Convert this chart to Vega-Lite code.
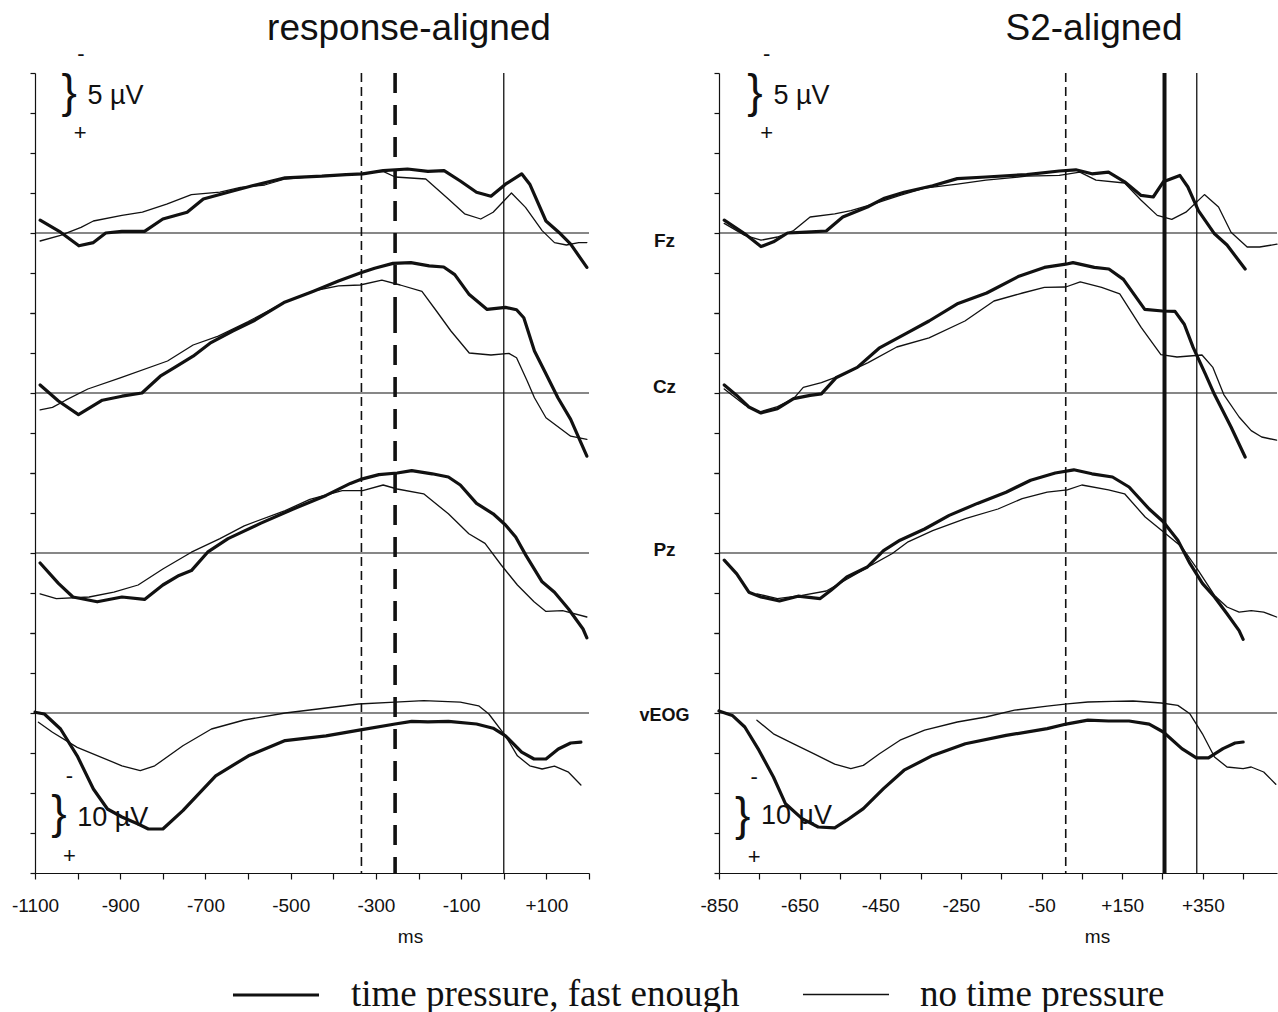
{
"$schema": "https://vega.github.io/schema/vega-lite/v6.json",
"background": "white",
"padding": {"left": 11, "top": 9, "right": 0, "bottom": 0},
"config": {
  "view": {"stroke": null},
  "font": "Liberation Sans",
  "axis": {"domainColor": "#111", "tickColor": "#111", "grid": false, "labelColor": "#111", "titleColor": "#111", "domainWidth": 1.2, "tickWidth": 1.2, "labelFont": "Liberation Sans", "titleFont": "Liberation Sans"},
  "title": {"font": "Liberation Sans", "fontSize": 37, "fontWeight": "normal", "color": "#111"},
  "legend": {"symbolType": "stroke", "symbolSize": 7400, "symbolStrokeColor": "#111", "labelFont": "Liberation Serif", "labelFontSize": 37, "labelColor": "#111", "labelOffset": 30, "columnPadding": 60, "labelLimit": 0, "padding": 0}
},
"datasets": {
"w": [
{"p":"R","c":"Fz","k":"tp","t":-1088,"v":-1.6},{"p":"R","c":"Fz","k":"tp","t":-1040,"v":-0.1},{"p":"R","c":"Fz","k":"tp","t":-997,"v":1.6},{"p":"R","c":"Fz","k":"tp","t":-963,"v":1.2},{"p":"R","c":"Fz","k":"tp","t":-934,"v":0},{"p":"R","c":"Fz","k":"tp","t":-896,"v":-0.2},{"p":"R","c":"Fz","k":"tp","t":-843,"v":-0.2},{"p":"R","c":"Fz","k":"tp","t":-800,"v":-1.75},{"p":"R","c":"Fz","k":"tp","t":-743,"v":-2.6},{"p":"R","c":"Fz","k":"tp","t":-705,"v":-4.25},{"p":"R","c":"Fz","k":"tp","t":-647,"v":-5.1},{"p":"R","c":"Fz","k":"tp","t":-590,"v":-5.9},{"p":"R","c":"Fz","k":"tp","t":-513,"v":-6.9},{"p":"R","c":"Fz","k":"tp","t":-427,"v":-7.1},{"p":"R","c":"Fz","k":"tp","t":-370,"v":-7.3},{"p":"R","c":"Fz","k":"tp","t":-331,"v":-7.4},{"p":"R","c":"Fz","k":"tp","t":-283,"v":-7.8},{"p":"R","c":"Fz","k":"tp","t":-226,"v":-8.0},{"p":"R","c":"Fz","k":"tp","t":-178,"v":-7.7},{"p":"R","c":"Fz","k":"tp","t":-140,"v":-7.8},{"p":"R","c":"Fz","k":"tp","t":-102,"v":-6.5},{"p":"R","c":"Fz","k":"tp","t":-64,"v":-5.1},{"p":"R","c":"Fz","k":"tp","t":-30,"v":-4.6},{"p":"R","c":"Fz","k":"tp","t":4,"v":-6.1},{"p":"R","c":"Fz","k":"tp","t":42,"v":-7.4},{"p":"R","c":"Fz","k":"tp","t":61,"v":-6.1},{"p":"R","c":"Fz","k":"tp","t":99,"v":-1.5},{"p":"R","c":"Fz","k":"tp","t":133,"v":0.1},{"p":"R","c":"Fz","k":"tp","t":157,"v":1.4},{"p":"R","c":"Fz","k":"tp","t":195,"v":4.3},
{"p":"R","c":"Fz","k":"ntp","t":-1088,"v":1.0},{"p":"R","c":"Fz","k":"ntp","t":-1040,"v":0.3},{"p":"R","c":"Fz","k":"ntp","t":-992,"v":-0.7},{"p":"R","c":"Fz","k":"ntp","t":-963,"v":-1.5},{"p":"R","c":"Fz","k":"ntp","t":-896,"v":-2.2},{"p":"R","c":"Fz","k":"ntp","t":-848,"v":-2.6},{"p":"R","c":"Fz","k":"ntp","t":-791,"v":-3.6},{"p":"R","c":"Fz","k":"ntp","t":-733,"v":-4.8},{"p":"R","c":"Fz","k":"ntp","t":-666,"v":-5.1},{"p":"R","c":"Fz","k":"ntp","t":-618,"v":-5.7},{"p":"R","c":"Fz","k":"ntp","t":-561,"v":-6.0},{"p":"R","c":"Fz","k":"ntp","t":-513,"v":-6.75},{"p":"R","c":"Fz","k":"ntp","t":-417,"v":-7.2},{"p":"R","c":"Fz","k":"ntp","t":-341,"v":-7.4},{"p":"R","c":"Fz","k":"ntp","t":-283,"v":-7.7},{"p":"R","c":"Fz","k":"ntp","t":-255,"v":-7.0},{"p":"R","c":"Fz","k":"ntp","t":-183,"v":-6.75},{"p":"R","c":"Fz","k":"ntp","t":-130,"v":-4.25},{"p":"R","c":"Fz","k":"ntp","t":-92,"v":-2.4},{"p":"R","c":"Fz","k":"ntp","t":-54,"v":-1.75},{"p":"R","c":"Fz","k":"ntp","t":-25,"v":-2.6},{"p":"R","c":"Fz","k":"ntp","t":18,"v":-5.0},{"p":"R","c":"Fz","k":"ntp","t":51,"v":-3.2},{"p":"R","c":"Fz","k":"ntp","t":90,"v":-0.3},{"p":"R","c":"Fz","k":"ntp","t":119,"v":1.2},{"p":"R","c":"Fz","k":"ntp","t":147,"v":1.5},{"p":"R","c":"Fz","k":"ntp","t":176,"v":1.2},{"p":"R","c":"Fz","k":"ntp","t":195,"v":1.2},
{"p":"R","c":"Cz","k":"tp","t":-1088,"v":-1.0},{"p":"R","c":"Cz","k":"tp","t":-1045,"v":1.0},{"p":"R","c":"Cz","k":"tp","t":-998,"v":2.7},{"p":"R","c":"Cz","k":"tp","t":-970,"v":1.8},{"p":"R","c":"Cz","k":"tp","t":-942,"v":0.9},{"p":"R","c":"Cz","k":"tp","t":-896,"v":0.4},{"p":"R","c":"Cz","k":"tp","t":-849,"v":0},{"p":"R","c":"Cz","k":"tp","t":-806,"v":-2.1},{"p":"R","c":"Cz","k":"tp","t":-772,"v":-3.2},{"p":"R","c":"Cz","k":"tp","t":-729,"v":-4.6},{"p":"R","c":"Cz","k":"tp","t":-687,"v":-6.3},{"p":"R","c":"Cz","k":"tp","t":-636,"v":-7.75},{"p":"R","c":"Cz","k":"tp","t":-584,"v":-9.1},{"p":"R","c":"Cz","k":"tp","t":-516,"v":-11.3},{"p":"R","c":"Cz","k":"tp","t":-448,"v":-12.7},{"p":"R","c":"Cz","k":"tp","t":-388,"v":-14.0},{"p":"R","c":"Cz","k":"tp","t":-337,"v":-15.0},{"p":"R","c":"Cz","k":"tp","t":-303,"v":-15.6},{"p":"R","c":"Cz","k":"tp","t":-260,"v":-16.2},{"p":"R","c":"Cz","k":"tp","t":-218,"v":-16.3},{"p":"R","c":"Cz","k":"tp","t":-175,"v":-15.9},{"p":"R","c":"Cz","k":"tp","t":-141,"v":-15.75},{"p":"R","c":"Cz","k":"tp","t":-115,"v":-14.8},{"p":"R","c":"Cz","k":"tp","t":-81,"v":-12.3},{"p":"R","c":"Cz","k":"tp","t":-39,"v":-10.45},{"p":"R","c":"Cz","k":"tp","t":4,"v":-10.7},{"p":"R","c":"Cz","k":"tp","t":30,"v":-10.4},{"p":"R","c":"Cz","k":"tp","t":47,"v":-9.4},{"p":"R","c":"Cz","k":"tp","t":72,"v":-5.25},{"p":"R","c":"Cz","k":"tp","t":98,"v":-2.5},{"p":"R","c":"Cz","k":"tp","t":127,"v":0.6},{"p":"R","c":"Cz","k":"tp","t":157,"v":3.3},{"p":"R","c":"Cz","k":"tp","t":195,"v":7.9},
{"p":"R","c":"Cz","k":"ntp","t":-1088,"v":2.1},{"p":"R","c":"Cz","k":"ntp","t":-1059,"v":1.8},{"p":"R","c":"Cz","k":"ntp","t":-1028,"v":0.9},{"p":"R","c":"Cz","k":"ntp","t":-976,"v":-0.5},{"p":"R","c":"Cz","k":"ntp","t":-900,"v":-1.9},{"p":"R","c":"Cz","k":"ntp","t":-789,"v":-4.0},{"p":"R","c":"Cz","k":"ntp","t":-729,"v":-6.0},{"p":"R","c":"Cz","k":"ntp","t":-670,"v":-7.1},{"p":"R","c":"Cz","k":"ntp","t":-601,"v":-8.9},{"p":"R","c":"Cz","k":"ntp","t":-516,"v":-11.3},{"p":"R","c":"Cz","k":"ntp","t":-448,"v":-12.75},{"p":"R","c":"Cz","k":"ntp","t":-388,"v":-13.4},{"p":"R","c":"Cz","k":"ntp","t":-337,"v":-13.5},{"p":"R","c":"Cz","k":"ntp","t":-286,"v":-14.1},{"p":"R","c":"Cz","k":"ntp","t":-243,"v":-13.5},{"p":"R","c":"Cz","k":"ntp","t":-192,"v":-12.7},{"p":"R","c":"Cz","k":"ntp","t":-158,"v":-10.25},{"p":"R","c":"Cz","k":"ntp","t":-124,"v":-7.75},{"p":"R","c":"Cz","k":"ntp","t":-81,"v":-5.0},{"p":"R","c":"Cz","k":"ntp","t":-30,"v":-4.75},{"p":"R","c":"Cz","k":"ntp","t":12,"v":-4.96},{"p":"R","c":"Cz","k":"ntp","t":30,"v":-4.4},{"p":"R","c":"Cz","k":"ntp","t":55,"v":-1.5},{"p":"R","c":"Cz","k":"ntp","t":72,"v":0.6},{"p":"R","c":"Cz","k":"ntp","t":99,"v":3.1},{"p":"R","c":"Cz","k":"ntp","t":157,"v":5.4},{"p":"R","c":"Cz","k":"ntp","t":195,"v":5.8},
{"p":"R","c":"Pz","k":"tp","t":-1088,"v":1.25},{"p":"R","c":"Pz","k":"tp","t":-1045,"v":3.8},{"p":"R","c":"Pz","k":"tp","t":-1011,"v":5.5},{"p":"R","c":"Pz","k":"tp","t":-954,"v":6.1},{"p":"R","c":"Pz","k":"tp","t":-896,"v":5.5},{"p":"R","c":"Pz","k":"tp","t":-843,"v":5.8},{"p":"R","c":"Pz","k":"tp","t":-800,"v":4.0},{"p":"R","c":"Pz","k":"tp","t":-762,"v":2.8},{"p":"R","c":"Pz","k":"tp","t":-733,"v":2.2},{"p":"R","c":"Pz","k":"tp","t":-695,"v":-0.1},{"p":"R","c":"Pz","k":"tp","t":-647,"v":-1.8},{"p":"R","c":"Pz","k":"tp","t":-571,"v":-3.7},{"p":"R","c":"Pz","k":"tp","t":-494,"v":-5.5},{"p":"R","c":"Pz","k":"tp","t":-417,"v":-7.2},{"p":"R","c":"Pz","k":"tp","t":-360,"v":-8.7},{"p":"R","c":"Pz","k":"tp","t":-336,"v":-9.2},{"p":"R","c":"Pz","k":"tp","t":-293,"v":-9.8},{"p":"R","c":"Pz","k":"tp","t":-250,"v":-10.0},{"p":"R","c":"Pz","k":"tp","t":-216,"v":-10.3},{"p":"R","c":"Pz","k":"tp","t":-168,"v":-9.9},{"p":"R","c":"Pz","k":"tp","t":-130,"v":-9.5},{"p":"R","c":"Pz","k":"tp","t":-102,"v":-8.5},{"p":"R","c":"Pz","k":"tp","t":-64,"v":-6.2},{"p":"R","c":"Pz","k":"tp","t":-25,"v":-4.9},{"p":"R","c":"Pz","k":"tp","t":4,"v":-3.5},{"p":"R","c":"Pz","k":"tp","t":28,"v":-2.0},{"p":"R","c":"Pz","k":"tp","t":52,"v":0.3},{"p":"R","c":"Pz","k":"tp","t":90,"v":3.6},{"p":"R","c":"Pz","k":"tp","t":119,"v":4.9},{"p":"R","c":"Pz","k":"tp","t":152,"v":7.0},{"p":"R","c":"Pz","k":"tp","t":186,"v":9.5},{"p":"R","c":"Pz","k":"tp","t":195,"v":10.6},
{"p":"R","c":"Pz","k":"ntp","t":-1088,"v":5.1},{"p":"R","c":"Pz","k":"ntp","t":-1050,"v":5.7},{"p":"R","c":"Pz","k":"ntp","t":-973,"v":5.5},{"p":"R","c":"Pz","k":"ntp","t":-915,"v":4.9},{"p":"R","c":"Pz","k":"ntp","t":-858,"v":4.0},{"p":"R","c":"Pz","k":"ntp","t":-800,"v":2.0},{"p":"R","c":"Pz","k":"ntp","t":-733,"v":-0.1},{"p":"R","c":"Pz","k":"ntp","t":-666,"v":-1.8},{"p":"R","c":"Pz","k":"ntp","t":-609,"v":-3.4},{"p":"R","c":"Pz","k":"ntp","t":-513,"v":-5.3},{"p":"R","c":"Pz","k":"ntp","t":-455,"v":-6.7},{"p":"R","c":"Pz","k":"ntp","t":-379,"v":-7.8},{"p":"R","c":"Pz","k":"ntp","t":-331,"v":-7.8},{"p":"R","c":"Pz","k":"ntp","t":-283,"v":-8.5},{"p":"R","c":"Pz","k":"ntp","t":-250,"v":-8.0},{"p":"R","c":"Pz","k":"ntp","t":-188,"v":-7.4},{"p":"R","c":"Pz","k":"ntp","t":-130,"v":-4.9},{"p":"R","c":"Pz","k":"ntp","t":-82,"v":-2.4},{"p":"R","c":"Pz","k":"ntp","t":-44,"v":-1.2},{"p":"R","c":"Pz","k":"ntp","t":-6,"v":1.5},{"p":"R","c":"Pz","k":"ntp","t":32,"v":4.0},{"p":"R","c":"Pz","k":"ntp","t":71,"v":6.1},{"p":"R","c":"Pz","k":"ntp","t":99,"v":7.3},{"p":"R","c":"Pz","k":"ntp","t":138,"v":7.2},{"p":"R","c":"Pz","k":"ntp","t":195,"v":8.0},
{"p":"R","c":"vEOG","k":"tp","t":-1100,"v":-0.2},{"p":"R","c":"vEOG","k":"tp","t":-1078,"v":0.25},{"p":"R","c":"vEOG","k":"tp","t":-1040,"v":4},{"p":"R","c":"vEOG","k":"tp","t":-1001,"v":10.7},{"p":"R","c":"vEOG","k":"tp","t":-963,"v":19},{"p":"R","c":"vEOG","k":"tp","t":-930,"v":24},{"p":"R","c":"vEOG","k":"tp","t":-896,"v":26},{"p":"R","c":"vEOG","k":"tp","t":-858,"v":27.75},{"p":"R","c":"vEOG","k":"tp","t":-834,"v":29},{"p":"R","c":"vEOG","k":"tp","t":-800,"v":29},{"p":"R","c":"vEOG","k":"tp","t":-753,"v":24.4},{"p":"R","c":"vEOG","k":"tp","t":-676,"v":15.7},{"p":"R","c":"vEOG","k":"tp","t":-599,"v":10.7},{"p":"R","c":"vEOG","k":"tp","t":-513,"v":6.9},{"p":"R","c":"vEOG","k":"tp","t":-417,"v":5.7},{"p":"R","c":"vEOG","k":"tp","t":-336,"v":4.2},{"p":"R","c":"vEOG","k":"tp","t":-255,"v":2.75},{"p":"R","c":"vEOG","k":"tp","t":-216,"v":2.1},{"p":"R","c":"vEOG","k":"tp","t":-178,"v":2.2},{"p":"R","c":"vEOG","k":"tp","t":-130,"v":2.1},{"p":"R","c":"vEOG","k":"tp","t":-64,"v":2.75},{"p":"R","c":"vEOG","k":"tp","t":-25,"v":3.8},{"p":"R","c":"vEOG","k":"tp","t":4,"v":5.7},{"p":"R","c":"vEOG","k":"tp","t":42,"v":9.8},{"p":"R","c":"vEOG","k":"tp","t":71,"v":11.5},{"p":"R","c":"vEOG","k":"tp","t":99,"v":11.5},{"p":"R","c":"vEOG","k":"tp","t":128,"v":9.0},{"p":"R","c":"vEOG","k":"tp","t":157,"v":7.5},{"p":"R","c":"vEOG","k":"tp","t":181,"v":7.3},
{"p":"R","c":"vEOG","k":"ntp","t":-1092,"v":2.3},{"p":"R","c":"vEOG","k":"ntp","t":-1059,"v":4.8},{"p":"R","c":"vEOG","k":"ntp","t":-1001,"v":8.6},{"p":"R","c":"vEOG","k":"ntp","t":-944,"v":11.1},{"p":"R","c":"vEOG","k":"ntp","t":-896,"v":13.2},{"p":"R","c":"vEOG","k":"ntp","t":-853,"v":14.4},{"p":"R","c":"vEOG","k":"ntp","t":-819,"v":13.2},{"p":"R","c":"vEOG","k":"ntp","t":-753,"v":8.2},{"p":"R","c":"vEOG","k":"ntp","t":-686,"v":4.0},{"p":"R","c":"vEOG","k":"ntp","t":-609,"v":1.75},{"p":"R","c":"vEOG","k":"ntp","t":-513,"v":0},{"p":"R","c":"vEOG","k":"ntp","t":-436,"v":-1.0},{"p":"R","c":"vEOG","k":"ntp","t":-341,"v":-2.25},{"p":"R","c":"vEOG","k":"ntp","t":-255,"v":-2.7},{"p":"R","c":"vEOG","k":"ntp","t":-188,"v":-3.1},{"p":"R","c":"vEOG","k":"ntp","t":-102,"v":-2.7},{"p":"R","c":"vEOG","k":"ntp","t":-59,"v":-1.8},{"p":"R","c":"vEOG","k":"ntp","t":-35,"v":0.25},{"p":"R","c":"vEOG","k":"ntp","t":4,"v":5.7},{"p":"R","c":"vEOG","k":"ntp","t":32,"v":10.7},{"p":"R","c":"vEOG","k":"ntp","t":61,"v":13.2},{"p":"R","c":"vEOG","k":"ntp","t":90,"v":14.0},{"p":"R","c":"vEOG","k":"ntp","t":119,"v":13.3},{"p":"R","c":"vEOG","k":"ntp","t":152,"v":14.8},{"p":"R","c":"vEOG","k":"ntp","t":181,"v":18},
{"p":"S","c":"Fz","k":"tp","t":-837,"v":-1.6},{"p":"S","c":"Fz","k":"tp","t":-786,"v":0.1},{"p":"S","c":"Fz","k":"tp","t":-746,"v":1.7},{"p":"S","c":"Fz","k":"tp","t":-715,"v":1.1},{"p":"S","c":"Fz","k":"tp","t":-680,"v":0},{"p":"S","c":"Fz","k":"tp","t":-634,"v":-0.1},{"p":"S","c":"Fz","k":"tp","t":-584,"v":-0.25},{"p":"S","c":"Fz","k":"tp","t":-543,"v":-2.0},{"p":"S","c":"Fz","k":"tp","t":-482,"v":-3.25},{"p":"S","c":"Fz","k":"tp","t":-442,"v":-4.3},{"p":"S","c":"Fz","k":"tp","t":-391,"v":-5.1},{"p":"S","c":"Fz","k":"tp","t":-320,"v":-5.9},{"p":"S","c":"Fz","k":"tp","t":-259,"v":-6.8},{"p":"S","c":"Fz","k":"tp","t":-188,"v":-7.0},{"p":"S","c":"Fz","k":"tp","t":-87,"v":-7.3},{"p":"S","c":"Fz","k":"tp","t":-6,"v":-7.75},{"p":"S","c":"Fz","k":"tp","t":35,"v":-7.9},{"p":"S","c":"Fz","k":"tp","t":75,"v":-7.4},{"p":"S","c":"Fz","k":"tp","t":116,"v":-7.6},{"p":"S","c":"Fz","k":"tp","t":156,"v":-6.4},{"p":"S","c":"Fz","k":"tp","t":197,"v":-4.7},{"p":"S","c":"Fz","k":"tp","t":227,"v":-4.5},{"p":"S","c":"Fz","k":"tp","t":252,"v":-6.4},{"p":"S","c":"Fz","k":"tp","t":293,"v":-7.2},{"p":"S","c":"Fz","k":"tp","t":313,"v":-5.75},{"p":"S","c":"Fz","k":"tp","t":339,"v":-2.8},{"p":"S","c":"Fz","k":"tp","t":379,"v":0.1},{"p":"S","c":"Fz","k":"tp","t":410,"v":1.5},{"p":"S","c":"Fz","k":"tp","t":455,"v":4.5},
{"p":"S","c":"Fz","k":"ntp","t":-837,"v":-1.2},{"p":"S","c":"Fz","k":"ntp","t":-786,"v":0.3},{"p":"S","c":"Fz","k":"ntp","t":-746,"v":0.9},{"p":"S","c":"Fz","k":"ntp","t":-705,"v":0.5},{"p":"S","c":"Fz","k":"ntp","t":-665,"v":-0.3},{"p":"S","c":"Fz","k":"ntp","t":-624,"v":-2.0},{"p":"S","c":"Fz","k":"ntp","t":-563,"v":-2.4},{"p":"S","c":"Fz","k":"ntp","t":-523,"v":-2.8},{"p":"S","c":"Fz","k":"ntp","t":-462,"v":-3.7},{"p":"S","c":"Fz","k":"ntp","t":-401,"v":-4.7},{"p":"S","c":"Fz","k":"ntp","t":-340,"v":-5.6},{"p":"S","c":"Fz","k":"ntp","t":-259,"v":-6.1},{"p":"S","c":"Fz","k":"ntp","t":-188,"v":-6.6},{"p":"S","c":"Fz","k":"ntp","t":-87,"v":-7.1},{"p":"S","c":"Fz","k":"ntp","t":-6,"v":-7.2},{"p":"S","c":"Fz","k":"ntp","t":45,"v":-7.6},{"p":"S","c":"Fz","k":"ntp","t":85,"v":-6.6},{"p":"S","c":"Fz","k":"ntp","t":156,"v":-6.25},{"p":"S","c":"Fz","k":"ntp","t":197,"v":-4.1},{"p":"S","c":"Fz","k":"ntp","t":237,"v":-2.2},{"p":"S","c":"Fz","k":"ntp","t":273,"v":-1.7},{"p":"S","c":"Fz","k":"ntp","t":308,"v":-2.6},{"p":"S","c":"Fz","k":"ntp","t":354,"v":-4.8},{"p":"S","c":"Fz","k":"ntp","t":389,"v":-3.25},{"p":"S","c":"Fz","k":"ntp","t":420,"v":-0.1},{"p":"S","c":"Fz","k":"ntp","t":460,"v":1.75},{"p":"S","c":"Fz","k":"ntp","t":491,"v":1.75},{"p":"S","c":"Fz","k":"ntp","t":534,"v":1.4},
{"p":"S","c":"Cz","k":"tp","t":-837,"v":-1.0},{"p":"S","c":"Cz","k":"tp","t":-806,"v":0.3},{"p":"S","c":"Cz","k":"tp","t":-776,"v":1.75},{"p":"S","c":"Cz","k":"tp","t":-746,"v":2.5},{"p":"S","c":"Cz","k":"tp","t":-705,"v":1.96},{"p":"S","c":"Cz","k":"tp","t":-665,"v":0.7},{"p":"S","c":"Cz","k":"tp","t":-624,"v":0.3},{"p":"S","c":"Cz","k":"tp","t":-596,"v":0.1},{"p":"S","c":"Cz","k":"tp","t":-560,"v":-1.9},{"p":"S","c":"Cz","k":"tp","t":-507,"v":-3.2},{"p":"S","c":"Cz","k":"tp","t":-453,"v":-5.6},{"p":"S","c":"Cz","k":"tp","t":-382,"v":-7.55},{"p":"S","c":"Cz","k":"tp","t":-329,"v":-9.0},{"p":"S","c":"Cz","k":"tp","t":-257,"v":-11.2},{"p":"S","c":"Cz","k":"tp","t":-186,"v":-12.5},{"p":"S","c":"Cz","k":"tp","t":-106,"v":-14.6},{"p":"S","c":"Cz","k":"tp","t":-43,"v":-15.7},{"p":"S","c":"Cz","k":"tp","t":10,"v":-16.1},{"p":"S","c":"Cz","k":"tp","t":28,"v":-16.3},{"p":"S","c":"Cz","k":"tp","t":81,"v":-15.7},{"p":"S","c":"Cz","k":"tp","t":117,"v":-15.5},{"p":"S","c":"Cz","k":"tp","t":153,"v":-14.2},{"p":"S","c":"Cz","k":"tp","t":206,"v":-10.45},{"p":"S","c":"Cz","k":"tp","t":250,"v":-10.25},{"p":"S","c":"Cz","k":"tp","t":281,"v":-10.2},{"p":"S","c":"Cz","k":"tp","t":304,"v":-8.6},{"p":"S","c":"Cz","k":"tp","t":326,"v":-5.7},{"p":"S","c":"Cz","k":"tp","t":357,"v":-2.3},{"p":"S","c":"Cz","k":"tp","t":379,"v":0.2},{"p":"S","c":"Cz","k":"tp","t":420,"v":4.25},{"p":"S","c":"Cz","k":"tp","t":455,"v":8.0},
{"p":"S","c":"Cz","k":"ntp","t":-837,"v":-0.5},{"p":"S","c":"Cz","k":"ntp","t":-786,"v":1.5},{"p":"S","c":"Cz","k":"ntp","t":-751,"v":2.4},{"p":"S","c":"Cz","k":"ntp","t":-705,"v":1.7},{"p":"S","c":"Cz","k":"ntp","t":-665,"v":0.7},{"p":"S","c":"Cz","k":"ntp","t":-641,"v":-0.7},{"p":"S","c":"Cz","k":"ntp","t":-596,"v":-1.3},{"p":"S","c":"Cz","k":"ntp","t":-543,"v":-2.3},{"p":"S","c":"Cz","k":"ntp","t":-480,"v":-3.8},{"p":"S","c":"Cz","k":"ntp","t":-409,"v":-5.75},{"p":"S","c":"Cz","k":"ntp","t":-329,"v":-6.9},{"p":"S","c":"Cz","k":"ntp","t":-240,"v":-9.0},{"p":"S","c":"Cz","k":"ntp","t":-168,"v":-11.5},{"p":"S","c":"Cz","k":"ntp","t":-97,"v":-12.5},{"p":"S","c":"Cz","k":"ntp","t":-43,"v":-13.2},{"p":"S","c":"Cz","k":"ntp","t":10,"v":-13.25},{"p":"S","c":"Cz","k":"ntp","t":46,"v":-13.9},{"p":"S","c":"Cz","k":"ntp","t":99,"v":-13.2},{"p":"S","c":"Cz","k":"ntp","t":144,"v":-12.4},{"p":"S","c":"Cz","k":"ntp","t":197,"v":-8.2},{"p":"S","c":"Cz","k":"ntp","t":246,"v":-4.8},{"p":"S","c":"Cz","k":"ntp","t":286,"v":-4.5},{"p":"S","c":"Cz","k":"ntp","t":348,"v":-4.75},{"p":"S","c":"Cz","k":"ntp","t":375,"v":-3.2},{"p":"S","c":"Cz","k":"ntp","t":402,"v":0.2},{"p":"S","c":"Cz","k":"ntp","t":440,"v":3.0},{"p":"S","c":"Cz","k":"ntp","t":470,"v":4.7},{"p":"S","c":"Cz","k":"ntp","t":496,"v":5.5},{"p":"S","c":"Cz","k":"ntp","t":533,"v":5.9},
{"p":"S","c":"Pz","k":"tp","t":-837,"v":0.9},{"p":"S","c":"Pz","k":"tp","t":-806,"v":2.6},{"p":"S","c":"Pz","k":"tp","t":-776,"v":4.9},{"p":"S","c":"Pz","k":"tp","t":-746,"v":5.5},{"p":"S","c":"Pz","k":"tp","t":-700,"v":6.0},{"p":"S","c":"Pz","k":"tp","t":-654,"v":5.4},{"p":"S","c":"Pz","k":"tp","t":-599,"v":5.7},{"p":"S","c":"Pz","k":"tp","t":-573,"v":4.7},{"p":"S","c":"Pz","k":"tp","t":-533,"v":3.0},{"p":"S","c":"Pz","k":"tp","t":-482,"v":1.75},{"p":"S","c":"Pz","k":"tp","t":-442,"v":-0.3},{"p":"S","c":"Pz","k":"tp","t":-401,"v":-1.6},{"p":"S","c":"Pz","k":"tp","t":-340,"v":-3.0},{"p":"S","c":"Pz","k":"tp","t":-279,"v":-4.7},{"p":"S","c":"Pz","k":"tp","t":-209,"v":-6.2},{"p":"S","c":"Pz","k":"tp","t":-138,"v":-7.6},{"p":"S","c":"Pz","k":"tp","t":-77,"v":-9.1},{"p":"S","c":"Pz","k":"tp","t":-16,"v":-10.0},{"p":"S","c":"Pz","k":"tp","t":30,"v":-10.4},{"p":"S","c":"Pz","k":"tp","t":75,"v":-9.9},{"p":"S","c":"Pz","k":"tp","t":126,"v":-9.5},{"p":"S","c":"Pz","k":"tp","t":167,"v":-8.25},{"p":"S","c":"Pz","k":"tp","t":217,"v":-5.5},{"p":"S","c":"Pz","k":"tp","t":252,"v":-3.9},{"p":"S","c":"Pz","k":"tp","t":288,"v":-1.6},{"p":"S","c":"Pz","k":"tp","t":318,"v":1.3},{"p":"S","c":"Pz","k":"tp","t":349,"v":3.8},{"p":"S","c":"Pz","k":"tp","t":379,"v":5.5},{"p":"S","c":"Pz","k":"tp","t":410,"v":7.6},{"p":"S","c":"Pz","k":"tp","t":440,"v":9.7},{"p":"S","c":"Pz","k":"tp","t":450,"v":10.8},
{"p":"S","c":"Pz","k":"ntp","t":-756,"v":5.1},{"p":"S","c":"Pz","k":"ntp","t":-705,"v":5.7},{"p":"S","c":"Pz","k":"ntp","t":-644,"v":5.3},{"p":"S","c":"Pz","k":"ntp","t":-584,"v":4.75},{"p":"S","c":"Pz","k":"ntp","t":-523,"v":3.0},{"p":"S","c":"Pz","k":"ntp","t":-482,"v":1.8},{"p":"S","c":"Pz","k":"ntp","t":-421,"v":0.1},{"p":"S","c":"Pz","k":"ntp","t":-381,"v":-1.4},{"p":"S","c":"Pz","k":"ntp","t":-320,"v":-2.8},{"p":"S","c":"Pz","k":"ntp","t":-239,"v":-4.3},{"p":"S","c":"Pz","k":"ntp","t":-158,"v":-5.5},{"p":"S","c":"Pz","k":"ntp","t":-98,"v":-6.8},{"p":"S","c":"Pz","k":"ntp","t":-36,"v":-7.6},{"p":"S","c":"Pz","k":"ntp","t":14,"v":-7.9},{"p":"S","c":"Pz","k":"ntp","t":50,"v":-8.5},{"p":"S","c":"Pz","k":"ntp","t":116,"v":-7.9},{"p":"S","c":"Pz","k":"ntp","t":156,"v":-7.4},{"p":"S","c":"Pz","k":"ntp","t":207,"v":-4.5},{"p":"S","c":"Pz","k":"ntp","t":258,"v":-2.4},{"p":"S","c":"Pz","k":"ntp","t":298,"v":-0.75},{"p":"S","c":"Pz","k":"ntp","t":339,"v":2.2},{"p":"S","c":"Pz","k":"ntp","t":379,"v":5.3},{"p":"S","c":"Pz","k":"ntp","t":410,"v":6.75},{"p":"S","c":"Pz","k":"ntp","t":440,"v":7.4},{"p":"S","c":"Pz","k":"ntp","t":470,"v":7.2},{"p":"S","c":"Pz","k":"ntp","t":501,"v":7.4},{"p":"S","c":"Pz","k":"ntp","t":533,"v":8.0},
{"p":"S","c":"vEOG","k":"tp","t":-850,"v":-0.5},{"p":"S","c":"vEOG","k":"tp","t":-817,"v":0.6},{"p":"S","c":"vEOG","k":"tp","t":-786,"v":3.5},{"p":"S","c":"vEOG","k":"tp","t":-751,"v":9.3},{"p":"S","c":"vEOG","k":"tp","t":-715,"v":16},{"p":"S","c":"vEOG","k":"tp","t":-685,"v":22.7},{"p":"S","c":"vEOG","k":"tp","t":-644,"v":26.4},{"p":"S","c":"vEOG","k":"tp","t":-604,"v":28.5},{"p":"S","c":"vEOG","k":"tp","t":-563,"v":28.7},{"p":"S","c":"vEOG","k":"tp","t":-533,"v":26.8},{"p":"S","c":"vEOG","k":"tp","t":-492,"v":23.9},{"p":"S","c":"vEOG","k":"tp","t":-442,"v":18.9},{"p":"S","c":"vEOG","k":"tp","t":-391,"v":14.3},{"p":"S","c":"vEOG","k":"tp","t":-320,"v":10.6},{"p":"S","c":"vEOG","k":"tp","t":-239,"v":7.7},{"p":"S","c":"vEOG","k":"tp","t":-138,"v":5.6},{"p":"S","c":"vEOG","k":"tp","t":-36,"v":3.9},{"p":"S","c":"vEOG","k":"tp","t":14,"v":2.7},{"p":"S","c":"vEOG","k":"tp","t":65,"v":1.8},{"p":"S","c":"vEOG","k":"tp","t":116,"v":2.0},{"p":"S","c":"vEOG","k":"tp","t":167,"v":2.0},{"p":"S","c":"vEOG","k":"tp","t":217,"v":2.8},{"p":"S","c":"vEOG","k":"tp","t":252,"v":4.75},{"p":"S","c":"vEOG","k":"tp","t":298,"v":8.9},{"p":"S","c":"vEOG","k":"tp","t":334,"v":11.2},{"p":"S","c":"vEOG","k":"tp","t":364,"v":11.2},{"p":"S","c":"vEOG","k":"tp","t":400,"v":8.9},{"p":"S","c":"vEOG","k":"tp","t":430,"v":7.5},{"p":"S","c":"vEOG","k":"tp","t":450,"v":7.25},
{"p":"S","c":"vEOG","k":"ntp","t":-756,"v":1.8},{"p":"S","c":"vEOG","k":"ntp","t":-715,"v":5.2},{"p":"S","c":"vEOG","k":"ntp","t":-665,"v":7.7},{"p":"S","c":"vEOG","k":"ntp","t":-614,"v":10.2},{"p":"S","c":"vEOG","k":"ntp","t":-563,"v":12.8},{"p":"S","c":"vEOG","k":"ntp","t":-523,"v":13.9},{"p":"S","c":"vEOG","k":"ntp","t":-492,"v":13.1},{"p":"S","c":"vEOG","k":"ntp","t":-452,"v":10.2},{"p":"S","c":"vEOG","k":"ntp","t":-401,"v":6.8},{"p":"S","c":"vEOG","k":"ntp","t":-340,"v":4.3},{"p":"S","c":"vEOG","k":"ntp","t":-259,"v":2.25},{"p":"S","c":"vEOG","k":"ntp","t":-188,"v":1.0},{"p":"S","c":"vEOG","k":"ntp","t":-117,"v":-0.7},{"p":"S","c":"vEOG","k":"ntp","t":-36,"v":-1.7},{"p":"S","c":"vEOG","k":"ntp","t":14,"v":-2.3},{"p":"S","c":"vEOG","k":"ntp","t":65,"v":-2.75},{"p":"S","c":"vEOG","k":"ntp","t":126,"v":-2.9},{"p":"S","c":"vEOG","k":"ntp","t":177,"v":-3.0},{"p":"S","c":"vEOG","k":"ntp","t":247,"v":-2.5},{"p":"S","c":"vEOG","k":"ntp","t":288,"v":-1.9},{"p":"S","c":"vEOG","k":"ntp","t":318,"v":0.2},{"p":"S","c":"vEOG","k":"ntp","t":349,"v":5.2},{"p":"S","c":"vEOG","k":"ntp","t":379,"v":11},{"p":"S","c":"vEOG","k":"ntp","t":410,"v":13.5},{"p":"S","c":"vEOG","k":"ntp","t":450,"v":13.9},{"p":"S","c":"vEOG","k":"ntp","t":470,"v":13.5},{"p":"S","c":"vEOG","k":"ntp","t":501,"v":14.75},{"p":"S","c":"vEOG","k":"ntp","t":531,"v":17.8}
]
},
"columns": 2,
"spacing": {"row": 0, "column": 130},
"align": "each",
"bounds": "flush",
"concat": [
{
"width": 554, "height": 240,
"title": {"text": "response-aligned", "dx": 97, "offset": -5},
"layer": [
{"data": {"name": "w"}, "transform": [{"filter": "datum.p=='R'&&datum.c=='Fz'"}], "mark": {"type": "line", "color": "#111", "strokeJoin": "round", "strokeCap": "round"},
 "encoding": {
  "x": {"field": "t", "type": "quantitative", "scale": {"domain": [-1100, 200], "nice": false, "zero": false}, "axis": null},
  "y": {"field": "v", "type": "quantitative", "scale": {"domain": [-20, 10], "reverse": true, "nice": false, "zero": false}, "axis": {"values": [-20,-15,-10,-5,0,5,10], "labels": false, "title": null, "tickSize": 5}},
  "strokeWidth": {"field": "k", "type": "nominal", "scale": {"domain": ["tp","ntp"], "range": [3.2, 1.3]}, "legend": {"title": null, "orient": "none", "direction": "horizontal", "legendX": 196, "legendY": 877, "labelExpr": "datum.value=='tp'?'time pressure, fast enough':'no time pressure'"}}}},
{"data": {"values": [{}]}, "mark": {"type": "rule", "color": "#111", "strokeWidth": 1.2}, "encoding": {"y": {"datum": 0, "scale": {"domain": [-20, 10], "reverse": true, "nice": false, "zero": false}, "axis": {"values": [-20,-15,-10,-5,0,5,10], "labels": false, "title": null, "tickSize": 5}}}},
{"data": {"values": [{}]}, "mark": {"type": "rule", "color": "#111", "strokeWidth": 1.6, "strokeDash": [9, 5]}, "encoding": {"x": {"datum": -334, "scale": {"domain": [-1100, 200], "nice": false, "zero": false}, "axis": null}}},
{"data": {"values": [{}]}, "mark": {"type": "rule", "color": "#111", "strokeWidth": 3.6, "strokeDash": [20, 12]}, "encoding": {"x": {"datum": -255, "scale": {"domain": [-1100, 200], "nice": false, "zero": false}, "axis": null}}},
{"data": {"values": [{}]}, "mark": {"type": "rule", "color": "#111", "strokeWidth": 1.3}, "encoding": {"x": {"datum": 0, "scale": {"domain": [-1100, 200], "nice": false, "zero": false}, "axis": null}}},
{"data": {"values": [{}]}, "mark": {"type": "text", "text": "-", "fontSize": 22, "color": "#111"}, "encoding": {"x": {"datum": -992, "scale": {"domain": [-1100, 200], "nice": false, "zero": false}, "axis": null}, "y": {"datum": -22.4, "scale": {"domain": [-20, 10], "reverse": true, "nice": false, "zero": false}, "axis": {"values": [-20,-15,-10,-5,0,5,10], "labels": false, "title": null, "tickSize": 5}}}},
{"data": {"values": [{}]}, "mark": {"type": "text", "text": "}", "fontSize": 46, "color": "#111", "baseline": "middle"}, "encoding": {"x": {"datum": -1020, "scale": {"domain": [-1100, 200], "nice": false, "zero": false}, "axis": null}, "y": {"datum": -17.5, "scale": {"domain": [-20, 10], "reverse": true, "nice": false, "zero": false}, "axis": {"values": [-20,-15,-10,-5,0,5,10], "labels": false, "title": null, "tickSize": 5}}}},
{"data": {"values": [{}]}, "mark": {"type": "text", "text": "5 µV", "fontSize": 27, "color": "#111", "align": "left", "baseline": "middle"}, "encoding": {"x": {"datum": -977, "scale": {"domain": [-1100, 200], "nice": false, "zero": false}, "axis": null}, "y": {"datum": -17.1, "scale": {"domain": [-20, 10], "reverse": true, "nice": false, "zero": false}, "axis": {"values": [-20,-15,-10,-5,0,5,10], "labels": false, "title": null, "tickSize": 5}}}},
{"data": {"values": [{}]}, "mark": {"type": "text", "text": "+", "fontSize": 22, "color": "#111", "baseline": "middle"}, "encoding": {"x": {"datum": -994, "scale": {"domain": [-1100, 200], "nice": false, "zero": false}, "axis": null}, "y": {"datum": -12.5, "scale": {"domain": [-20, 10], "reverse": true, "nice": false, "zero": false}, "axis": {"values": [-20,-15,-10,-5,0,5,10], "labels": false, "title": null, "tickSize": 5}}}}
]
},
{
"width": 558, "height": 240,
"title": {"text": "S2-aligned", "dx": 96, "offset": -5},
"layer": [
{"data": {"name": "w"}, "transform": [{"filter": "datum.p=='S'&&datum.c=='Fz'"}], "mark": {"type": "line", "color": "#111", "strokeJoin": "round", "strokeCap": "round"},
 "encoding": {
  "x": {"field": "t", "type": "quantitative", "scale": {"domain": [-850, 534], "nice": false, "zero": false}, "axis": null},
  "y": {"field": "v", "type": "quantitative", "scale": {"domain": [-20, 10], "reverse": true, "nice": false, "zero": false}, "axis": {"values": [-20,-15,-10,-5,0,5,10], "labelExpr": "datum.value==0?'Fz':''", "labelFontWeight": "bold", "labelFontSize": 19, "labelAlign": "center", "labelBaseline": "middle", "labelPadding": 50, "labelOffset": 7, "title": null, "tickSize": 5}},
  "strokeWidth": {"field": "k", "type": "nominal", "scale": {"domain": ["tp","ntp"], "range": [3.2, 1.3]}, "legend": {"title": null, "orient": "none", "direction": "horizontal", "legendX": 196, "legendY": 877, "labelExpr": "datum.value=='tp'?'time pressure, fast enough':'no time pressure'"}}}},
{"data": {"values": [{}]}, "mark": {"type": "rule", "color": "#111", "strokeWidth": 1.2}, "encoding": {"y": {"datum": 0, "scale": {"domain": [-20, 10], "reverse": true, "nice": false, "zero": false}, "axis": {"values": [-20,-15,-10,-5,0,5,10], "labelExpr": "datum.value==0?'Fz':''", "labelFontWeight": "bold", "labelFontSize": 19, "labelAlign": "center", "labelBaseline": "middle", "labelPadding": 50, "labelOffset": 7, "title": null, "tickSize": 5}}}},
{"data": {"values": [{}]}, "mark": {"type": "rule", "color": "#111", "strokeWidth": 1.6, "strokeDash": [9, 5]}, "encoding": {"x": {"datum": 10, "scale": {"domain": [-850, 534], "nice": false, "zero": false}, "axis": null}}},
{"data": {"values": [{}]}, "mark": {"type": "rule", "color": "#111", "strokeWidth": 4}, "encoding": {"x": {"datum": 255, "scale": {"domain": [-850, 534], "nice": false, "zero": false}, "axis": null}}},
{"data": {"values": [{}]}, "mark": {"type": "rule", "color": "#111", "strokeWidth": 1.3}, "encoding": {"x": {"datum": 335, "scale": {"domain": [-850, 534], "nice": false, "zero": false}, "axis": null}}},
{"data": {"values": [{}]}, "mark": {"type": "text", "text": "-", "fontSize": 22, "color": "#111"}, "encoding": {"x": {"datum": -732, "scale": {"domain": [-850, 534], "nice": false, "zero": false}, "axis": null}, "y": {"datum": -22.4, "scale": {"domain": [-20, 10], "reverse": true, "nice": false, "zero": false}, "axis": {"values": [-20,-15,-10,-5,0,5,10], "labelExpr": "datum.value==0?'Fz':''", "labelFontWeight": "bold", "labelFontSize": 19, "labelAlign": "center", "labelBaseline": "middle", "labelPadding": 50, "labelOffset": 7, "title": null, "tickSize": 5}}}},
{"data": {"values": [{}]}, "mark": {"type": "text", "text": "}", "fontSize": 46, "color": "#111", "baseline": "middle"}, "encoding": {"x": {"datum": -761, "scale": {"domain": [-850, 534], "nice": false, "zero": false}, "axis": null}, "y": {"datum": -17.5, "scale": {"domain": [-20, 10], "reverse": true, "nice": false, "zero": false}, "axis": {"values": [-20,-15,-10,-5,0,5,10], "labelExpr": "datum.value==0?'Fz':''", "labelFontWeight": "bold", "labelFontSize": 19, "labelAlign": "center", "labelBaseline": "middle", "labelPadding": 50, "labelOffset": 7, "title": null, "tickSize": 5}}}},
{"data": {"values": [{}]}, "mark": {"type": "text", "text": "5 µV", "fontSize": 27, "color": "#111", "align": "left", "baseline": "middle"}, "encoding": {"x": {"datum": -715, "scale": {"domain": [-850, 534], "nice": false, "zero": false}, "axis": null}, "y": {"datum": -17.1, "scale": {"domain": [-20, 10], "reverse": true, "nice": false, "zero": false}, "axis": {"values": [-20,-15,-10,-5,0,5,10], "labelExpr": "datum.value==0?'Fz':''", "labelFontWeight": "bold", "labelFontSize": 19, "labelAlign": "center", "labelBaseline": "middle", "labelPadding": 50, "labelOffset": 7, "title": null, "tickSize": 5}}}},
{"data": {"values": [{}]}, "mark": {"type": "text", "text": "+", "fontSize": 22, "color": "#111", "baseline": "middle"}, "encoding": {"x": {"datum": -732, "scale": {"domain": [-850, 534], "nice": false, "zero": false}, "axis": null}, "y": {"datum": -12.5, "scale": {"domain": [-20, 10], "reverse": true, "nice": false, "zero": false}, "axis": {"values": [-20,-15,-10,-5,0,5,10], "labelExpr": "datum.value==0?'Fz':''", "labelFontWeight": "bold", "labelFontSize": 19, "labelAlign": "center", "labelBaseline": "middle", "labelPadding": 50, "labelOffset": 7, "title": null, "tickSize": 5}}}}
]
},
{
"width": 554, "height": 160,
"layer": [
{"data": {"name": "w"}, "transform": [{"filter": "datum.p=='R'&&datum.c=='Cz'"}], "mark": {"type": "line", "color": "#111", "strokeJoin": "round", "strokeCap": "round"},
 "encoding": {
  "x": {"field": "t", "type": "quantitative", "scale": {"domain": [-1100, 200], "nice": false, "zero": false}, "axis": null},
  "y": {"field": "v", "type": "quantitative", "scale": {"domain": [-10, 10], "reverse": true, "nice": false, "zero": false}, "axis": {"values": [-10,-5,0,5,10], "labels": false, "title": null, "tickSize": 5}},
  "strokeWidth": {"field": "k", "type": "nominal", "scale": {"domain": ["tp","ntp"], "range": [3.2, 1.3]}, "legend": {"title": null, "orient": "none", "direction": "horizontal", "legendX": 196, "legendY": 877, "labelExpr": "datum.value=='tp'?'time pressure, fast enough':'no time pressure'"}}}},
{"data": {"values": [{}]}, "mark": {"type": "rule", "color": "#111", "strokeWidth": 1.2}, "encoding": {"y": {"datum": 0, "scale": {"domain": [-10, 10], "reverse": true, "nice": false, "zero": false}, "axis": {"values": [-10,-5,0,5,10], "labels": false, "title": null, "tickSize": 5}}}},
{"data": {"values": [{}]}, "mark": {"type": "rule", "color": "#111", "strokeWidth": 1.6, "strokeDash": [9, 5]}, "encoding": {"x": {"datum": -334, "scale": {"domain": [-1100, 200], "nice": false, "zero": false}, "axis": null}}},
{"data": {"values": [{}]}, "mark": {"type": "rule", "color": "#111", "strokeWidth": 3.6, "strokeDash": [20, 12]}, "encoding": {"x": {"datum": -255, "scale": {"domain": [-1100, 200], "nice": false, "zero": false}, "axis": null}}},
{"data": {"values": [{}]}, "mark": {"type": "rule", "color": "#111", "strokeWidth": 1.3}, "encoding": {"x": {"datum": 0, "scale": {"domain": [-1100, 200], "nice": false, "zero": false}, "axis": null}}}
]
},
{
"width": 558, "height": 160,
"layer": [
{"data": {"name": "w"}, "transform": [{"filter": "datum.p=='S'&&datum.c=='Cz'"}], "mark": {"type": "line", "color": "#111", "strokeJoin": "round", "strokeCap": "round"},
 "encoding": {
  "x": {"field": "t", "type": "quantitative", "scale": {"domain": [-850, 534], "nice": false, "zero": false}, "axis": null},
  "y": {"field": "v", "type": "quantitative", "scale": {"domain": [-10, 10], "reverse": true, "nice": false, "zero": false}, "axis": {"values": [-10,-5,0,5,10], "labelExpr": "datum.value==0?'Cz':''", "labelFontWeight": "bold", "labelFontSize": 19, "labelAlign": "center", "labelBaseline": "middle", "labelPadding": 50, "labelOffset": -7, "title": null, "tickSize": 5}},
  "strokeWidth": {"field": "k", "type": "nominal", "scale": {"domain": ["tp","ntp"], "range": [3.2, 1.3]}, "legend": {"title": null, "orient": "none", "direction": "horizontal", "legendX": 196, "legendY": 877, "labelExpr": "datum.value=='tp'?'time pressure, fast enough':'no time pressure'"}}}},
{"data": {"values": [{}]}, "mark": {"type": "rule", "color": "#111", "strokeWidth": 1.2}, "encoding": {"y": {"datum": 0, "scale": {"domain": [-10, 10], "reverse": true, "nice": false, "zero": false}, "axis": {"values": [-10,-5,0,5,10], "labelExpr": "datum.value==0?'Cz':''", "labelFontWeight": "bold", "labelFontSize": 19, "labelAlign": "center", "labelBaseline": "middle", "labelPadding": 50, "labelOffset": -7, "title": null, "tickSize": 5}}}},
{"data": {"values": [{}]}, "mark": {"type": "rule", "color": "#111", "strokeWidth": 1.6, "strokeDash": [9, 5]}, "encoding": {"x": {"datum": 10, "scale": {"domain": [-850, 534], "nice": false, "zero": false}, "axis": null}}},
{"data": {"values": [{}]}, "mark": {"type": "rule", "color": "#111", "strokeWidth": 4}, "encoding": {"x": {"datum": 255, "scale": {"domain": [-850, 534], "nice": false, "zero": false}, "axis": null}}},
{"data": {"values": [{}]}, "mark": {"type": "rule", "color": "#111", "strokeWidth": 1.3}, "encoding": {"x": {"datum": 335, "scale": {"domain": [-850, 534], "nice": false, "zero": false}, "axis": null}}}
]
},
{
"width": 554, "height": 160,
"layer": [
{"data": {"name": "w"}, "transform": [{"filter": "datum.p=='R'&&datum.c=='Pz'"}], "mark": {"type": "line", "color": "#111", "strokeJoin": "round", "strokeCap": "round"},
 "encoding": {
  "x": {"field": "t", "type": "quantitative", "scale": {"domain": [-1100, 200], "nice": false, "zero": false}, "axis": null},
  "y": {"field": "v", "type": "quantitative", "scale": {"domain": [-10, 10], "reverse": true, "nice": false, "zero": false}, "axis": {"values": [-10,-5,0,5,10], "labels": false, "title": null, "tickSize": 5}},
  "strokeWidth": {"field": "k", "type": "nominal", "scale": {"domain": ["tp","ntp"], "range": [3.2, 1.3]}, "legend": {"title": null, "orient": "none", "direction": "horizontal", "legendX": 196, "legendY": 877, "labelExpr": "datum.value=='tp'?'time pressure, fast enough':'no time pressure'"}}}},
{"data": {"values": [{}]}, "mark": {"type": "rule", "color": "#111", "strokeWidth": 1.2}, "encoding": {"y": {"datum": 0, "scale": {"domain": [-10, 10], "reverse": true, "nice": false, "zero": false}, "axis": {"values": [-10,-5,0,5,10], "labels": false, "title": null, "tickSize": 5}}}},
{"data": {"values": [{}]}, "mark": {"type": "rule", "color": "#111", "strokeWidth": 1.6, "strokeDash": [9, 5]}, "encoding": {"x": {"datum": -334, "scale": {"domain": [-1100, 200], "nice": false, "zero": false}, "axis": null}}},
{"data": {"values": [{}]}, "mark": {"type": "rule", "color": "#111", "strokeWidth": 3.6, "strokeDash": [20, 12]}, "encoding": {"x": {"datum": -255, "scale": {"domain": [-1100, 200], "nice": false, "zero": false}, "axis": null}}},
{"data": {"values": [{}]}, "mark": {"type": "rule", "color": "#111", "strokeWidth": 1.3}, "encoding": {"x": {"datum": 0, "scale": {"domain": [-1100, 200], "nice": false, "zero": false}, "axis": null}}}
]
},
{
"width": 558, "height": 160,
"layer": [
{"data": {"name": "w"}, "transform": [{"filter": "datum.p=='S'&&datum.c=='Pz'"}], "mark": {"type": "line", "color": "#111", "strokeJoin": "round", "strokeCap": "round"},
 "encoding": {
  "x": {"field": "t", "type": "quantitative", "scale": {"domain": [-850, 534], "nice": false, "zero": false}, "axis": null},
  "y": {"field": "v", "type": "quantitative", "scale": {"domain": [-10, 10], "reverse": true, "nice": false, "zero": false}, "axis": {"values": [-10,-5,0,5,10], "labelExpr": "datum.value==0?'Pz':''", "labelFontWeight": "bold", "labelFontSize": 19, "labelAlign": "center", "labelBaseline": "middle", "labelPadding": 50, "labelOffset": -4, "title": null, "tickSize": 5}},
  "strokeWidth": {"field": "k", "type": "nominal", "scale": {"domain": ["tp","ntp"], "range": [3.2, 1.3]}, "legend": {"title": null, "orient": "none", "direction": "horizontal", "legendX": 196, "legendY": 877, "labelExpr": "datum.value=='tp'?'time pressure, fast enough':'no time pressure'"}}}},
{"data": {"values": [{}]}, "mark": {"type": "rule", "color": "#111", "strokeWidth": 1.2}, "encoding": {"y": {"datum": 0, "scale": {"domain": [-10, 10], "reverse": true, "nice": false, "zero": false}, "axis": {"values": [-10,-5,0,5,10], "labelExpr": "datum.value==0?'Pz':''", "labelFontWeight": "bold", "labelFontSize": 19, "labelAlign": "center", "labelBaseline": "middle", "labelPadding": 50, "labelOffset": -4, "title": null, "tickSize": 5}}}},
{"data": {"values": [{}]}, "mark": {"type": "rule", "color": "#111", "strokeWidth": 1.6, "strokeDash": [9, 5]}, "encoding": {"x": {"datum": 10, "scale": {"domain": [-850, 534], "nice": false, "zero": false}, "axis": null}}},
{"data": {"values": [{}]}, "mark": {"type": "rule", "color": "#111", "strokeWidth": 4}, "encoding": {"x": {"datum": 255, "scale": {"domain": [-850, 534], "nice": false, "zero": false}, "axis": null}}},
{"data": {"values": [{}]}, "mark": {"type": "rule", "color": "#111", "strokeWidth": 1.3}, "encoding": {"x": {"datum": 335, "scale": {"domain": [-850, 534], "nice": false, "zero": false}, "axis": null}}}
]
},
{
"width": 554, "height": 240,
"layer": [
{"data": {"name": "w"}, "transform": [{"filter": "datum.p=='R'&&datum.c=='vEOG'"}], "mark": {"type": "line", "color": "#111", "strokeJoin": "round", "strokeCap": "round"},
 "encoding": {
  "x": {"field": "t", "type": "quantitative", "scale": {"domain": [-1100, 200], "nice": false, "zero": false}, "axis": {"values": [-1100,-1000,-900,-800,-700,-600,-500,-400,-300,-200,-100,0,100,200], "labelExpr": "(datum.value+1100)%200==0&&datum.value<200?(datum.value>0?'+'+datum.value:''+datum.value):''", "labelFlush": false, "labelOverlap": false, "labelFontSize": 19, "labelPadding": 17, "tickSize": 6, "title": "ms", "titleFontSize": 19, "titleFontWeight": "normal", "titleX": 375, "titleY": 63, "titleAlign": "center", "titleBaseline": "middle"}},
  "y": {"field": "v", "type": "quantitative", "scale": {"domain": [-20, 40], "reverse": true, "nice": false, "zero": false}, "axis": {"values": [-20,-10,0,10,20,30,40], "labels": false, "title": null, "tickSize": 5}},
  "strokeWidth": {"field": "k", "type": "nominal", "scale": {"domain": ["tp","ntp"], "range": [3.2, 1.3]}, "legend": {"title": null, "orient": "none", "direction": "horizontal", "legendX": 196, "legendY": 877, "labelExpr": "datum.value=='tp'?'time pressure, fast enough':'no time pressure'"}}}},
{"data": {"values": [{}]}, "mark": {"type": "rule", "color": "#111", "strokeWidth": 1.2}, "encoding": {"y": {"datum": 0, "scale": {"domain": [-20, 40], "reverse": true, "nice": false, "zero": false}, "axis": {"values": [-20,-10,0,10,20,30,40], "labels": false, "title": null, "tickSize": 5}}}},
{"data": {"values": [{}]}, "mark": {"type": "rule", "color": "#111", "strokeWidth": 1.6, "strokeDash": [9, 5]}, "encoding": {"x": {"datum": -334, "scale": {"domain": [-1100, 200], "nice": false, "zero": false}, "axis": {"values": [-1100,-1000,-900,-800,-700,-600,-500,-400,-300,-200,-100,0,100,200], "labelExpr": "(datum.value+1100)%200==0&&datum.value<200?(datum.value>0?'+'+datum.value:''+datum.value):''", "labelFlush": false, "labelOverlap": false, "labelFontSize": 19, "labelPadding": 17, "tickSize": 6, "title": "ms", "titleFontSize": 19, "titleFontWeight": "normal", "titleX": 375, "titleY": 63, "titleAlign": "center", "titleBaseline": "middle"}}}},
{"data": {"values": [{}]}, "mark": {"type": "rule", "color": "#111", "strokeWidth": 3.6, "strokeDash": [20, 12]}, "encoding": {"x": {"datum": -255, "scale": {"domain": [-1100, 200], "nice": false, "zero": false}, "axis": {"values": [-1100,-1000,-900,-800,-700,-600,-500,-400,-300,-200,-100,0,100,200], "labelExpr": "(datum.value+1100)%200==0&&datum.value<200?(datum.value>0?'+'+datum.value:''+datum.value):''", "labelFlush": false, "labelOverlap": false, "labelFontSize": 19, "labelPadding": 17, "tickSize": 6, "title": "ms", "titleFontSize": 19, "titleFontWeight": "normal", "titleX": 375, "titleY": 63, "titleAlign": "center", "titleBaseline": "middle"}}}},
{"data": {"values": [{}]}, "mark": {"type": "rule", "color": "#111", "strokeWidth": 1.3}, "encoding": {"x": {"datum": 0, "scale": {"domain": [-1100, 200], "nice": false, "zero": false}, "axis": {"values": [-1100,-1000,-900,-800,-700,-600,-500,-400,-300,-200,-100,0,100,200], "labelExpr": "(datum.value+1100)%200==0&&datum.value<200?(datum.value>0?'+'+datum.value:''+datum.value):''", "labelFlush": false, "labelOverlap": false, "labelFontSize": 19, "labelPadding": 17, "tickSize": 6, "title": "ms", "titleFontSize": 19, "titleFontWeight": "normal", "titleX": 375, "titleY": 63, "titleAlign": "center", "titleBaseline": "middle"}}}},
{"data": {"values": [{}]}, "mark": {"type": "text", "text": "-", "fontSize": 22, "color": "#111", "baseline": "middle"}, "encoding": {"x": {"datum": -1019, "scale": {"domain": [-1100, 200], "nice": false, "zero": false}, "axis": {"values": [-1100,-1000,-900,-800,-700,-600,-500,-400,-300,-200,-100,0,100,200], "labelExpr": "(datum.value+1100)%200==0&&datum.value<200?(datum.value>0?'+'+datum.value:''+datum.value):''", "labelFlush": false, "labelOverlap": false, "labelFontSize": 19, "labelPadding": 17, "tickSize": 6, "title": "ms", "titleFontSize": 19, "titleFontWeight": "normal", "titleX": 375, "titleY": 63, "titleAlign": "center", "titleBaseline": "middle"}}, "y": {"datum": 15.75, "scale": {"domain": [-20, 40], "reverse": true, "nice": false, "zero": false}, "axis": {"values": [-20,-10,0,10,20,30,40], "labels": false, "title": null, "tickSize": 5}}}},
{"data": {"values": [{}]}, "mark": {"type": "text", "text": "}", "fontSize": 46, "color": "#111", "baseline": "middle"}, "encoding": {"x": {"datum": -1044, "scale": {"domain": [-1100, 200], "nice": false, "zero": false}, "axis": {"values": [-1100,-1000,-900,-800,-700,-600,-500,-400,-300,-200,-100,0,100,200], "labelExpr": "(datum.value+1100)%200==0&&datum.value<200?(datum.value>0?'+'+datum.value:''+datum.value):''", "labelFlush": false, "labelOverlap": false, "labelFontSize": 19, "labelPadding": 17, "tickSize": 6, "title": "ms", "titleFontSize": 19, "titleFontWeight": "normal", "titleX": 375, "titleY": 63, "titleAlign": "center", "titleBaseline": "middle"}}, "y": {"datum": 25.3, "scale": {"domain": [-20, 40], "reverse": true, "nice": false, "zero": false}, "axis": {"values": [-20,-10,0,10,20,30,40], "labels": false, "title": null, "tickSize": 5}}}},
{"data": {"values": [{}]}, "mark": {"type": "text", "text": "10 µV", "fontSize": 27, "color": "#111", "align": "left", "baseline": "middle"}, "encoding": {"x": {"datum": -1001, "scale": {"domain": [-1100, 200], "nice": false, "zero": false}, "axis": {"values": [-1100,-1000,-900,-800,-700,-600,-500,-400,-300,-200,-100,0,100,200], "labelExpr": "(datum.value+1100)%200==0&&datum.value<200?(datum.value>0?'+'+datum.value:''+datum.value):''", "labelFlush": false, "labelOverlap": false, "labelFontSize": 19, "labelPadding": 17, "tickSize": 6, "title": "ms", "titleFontSize": 19, "titleFontWeight": "normal", "titleX": 375, "titleY": 63, "titleAlign": "center", "titleBaseline": "middle"}}, "y": {"datum": 26.2, "scale": {"domain": [-20, 40], "reverse": true, "nice": false, "zero": false}, "axis": {"values": [-20,-10,0,10,20,30,40], "labels": false, "title": null, "tickSize": 5}}}},
{"data": {"values": [{}]}, "mark": {"type": "text", "text": "+", "fontSize": 22, "color": "#111", "baseline": "middle"}, "encoding": {"x": {"datum": -1019, "scale": {"domain": [-1100, 200], "nice": false, "zero": false}, "axis": {"values": [-1100,-1000,-900,-800,-700,-600,-500,-400,-300,-200,-100,0,100,200], "labelExpr": "(datum.value+1100)%200==0&&datum.value<200?(datum.value>0?'+'+datum.value:''+datum.value):''", "labelFlush": false, "labelOverlap": false, "labelFontSize": 19, "labelPadding": 17, "tickSize": 6, "title": "ms", "titleFontSize": 19, "titleFontWeight": "normal", "titleX": 375, "titleY": 63, "titleAlign": "center", "titleBaseline": "middle"}}, "y": {"datum": 35.75, "scale": {"domain": [-20, 40], "reverse": true, "nice": false, "zero": false}, "axis": {"values": [-20,-10,0,10,20,30,40], "labels": false, "title": null, "tickSize": 5}}}}
]
},
{
"width": 558, "height": 240,
"layer": [
{"data": {"name": "w"}, "transform": [{"filter": "datum.p=='S'&&datum.c=='vEOG'"}], "mark": {"type": "line", "color": "#111", "strokeJoin": "round", "strokeCap": "round"},
 "encoding": {
  "x": {"field": "t", "type": "quantitative", "scale": {"domain": [-850, 534], "nice": false, "zero": false}, "axis": {"values": [-850,-750,-650,-550,-450,-350,-250,-150,-50,50,150,250,350,450], "labelExpr": "(datum.value+850)%200==0&&datum.value<400?(datum.value>0?'+'+datum.value:''+datum.value):''", "labelFlush": false, "labelOverlap": false, "labelFontSize": 19, "labelPadding": 17, "tickSize": 6, "title": "ms", "titleFontSize": 19, "titleFontWeight": "normal", "titleX": 378, "titleY": 63, "titleAlign": "center", "titleBaseline": "middle"}},
  "y": {"field": "v", "type": "quantitative", "scale": {"domain": [-20, 40], "reverse": true, "nice": false, "zero": false}, "axis": {"values": [-20,-10,0,10,20,30,40], "labelExpr": "datum.value==0?'vEOG':''", "labelFontWeight": "bold", "labelFontSize": 18, "labelAlign": "center", "labelBaseline": "middle", "labelPadding": 50, "labelOffset": 2, "title": null, "tickSize": 5}},
  "strokeWidth": {"field": "k", "type": "nominal", "scale": {"domain": ["tp","ntp"], "range": [3.2, 1.3]}, "legend": {"title": null, "orient": "none", "direction": "horizontal", "legendX": 196, "legendY": 877, "labelExpr": "datum.value=='tp'?'time pressure, fast enough':'no time pressure'"}}}},
{"data": {"values": [{}]}, "mark": {"type": "rule", "color": "#111", "strokeWidth": 1.2}, "encoding": {"y": {"datum": 0, "scale": {"domain": [-20, 40], "reverse": true, "nice": false, "zero": false}, "axis": {"values": [-20,-10,0,10,20,30,40], "labelExpr": "datum.value==0?'vEOG':''", "labelFontWeight": "bold", "labelFontSize": 18, "labelAlign": "center", "labelBaseline": "middle", "labelPadding": 50, "labelOffset": 2, "title": null, "tickSize": 5}}}},
{"data": {"values": [{}]}, "mark": {"type": "rule", "color": "#111", "strokeWidth": 1.6, "strokeDash": [9, 5]}, "encoding": {"x": {"datum": 10, "scale": {"domain": [-850, 534], "nice": false, "zero": false}, "axis": {"values": [-850,-750,-650,-550,-450,-350,-250,-150,-50,50,150,250,350,450], "labelExpr": "(datum.value+850)%200==0&&datum.value<400?(datum.value>0?'+'+datum.value:''+datum.value):''", "labelFlush": false, "labelOverlap": false, "labelFontSize": 19, "labelPadding": 17, "tickSize": 6, "title": "ms", "titleFontSize": 19, "titleFontWeight": "normal", "titleX": 378, "titleY": 63, "titleAlign": "center", "titleBaseline": "middle"}}}},
{"data": {"values": [{}]}, "mark": {"type": "rule", "color": "#111", "strokeWidth": 4}, "encoding": {"x": {"datum": 255, "scale": {"domain": [-850, 534], "nice": false, "zero": false}, "axis": {"values": [-850,-750,-650,-550,-450,-350,-250,-150,-50,50,150,250,350,450], "labelExpr": "(datum.value+850)%200==0&&datum.value<400?(datum.value>0?'+'+datum.value:''+datum.value):''", "labelFlush": false, "labelOverlap": false, "labelFontSize": 19, "labelPadding": 17, "tickSize": 6, "title": "ms", "titleFontSize": 19, "titleFontWeight": "normal", "titleX": 378, "titleY": 63, "titleAlign": "center", "titleBaseline": "middle"}}}},
{"data": {"values": [{}]}, "mark": {"type": "rule", "color": "#111", "strokeWidth": 1.3}, "encoding": {"x": {"datum": 335, "scale": {"domain": [-850, 534], "nice": false, "zero": false}, "axis": {"values": [-850,-750,-650,-550,-450,-350,-250,-150,-50,50,150,250,350,450], "labelExpr": "(datum.value+850)%200==0&&datum.value<400?(datum.value>0?'+'+datum.value:''+datum.value):''", "labelFlush": false, "labelOverlap": false, "labelFontSize": 19, "labelPadding": 17, "tickSize": 6, "title": "ms", "titleFontSize": 19, "titleFontWeight": "normal", "titleX": 378, "titleY": 63, "titleAlign": "center", "titleBaseline": "middle"}}}},
{"data": {"values": [{}]}, "mark": {"type": "text", "text": "-", "fontSize": 22, "color": "#111", "baseline": "middle"}, "encoding": {"x": {"datum": -763, "scale": {"domain": [-850, 534], "nice": false, "zero": false}, "axis": {"values": [-850,-750,-650,-550,-450,-350,-250,-150,-50,50,150,250,350,450], "labelExpr": "(datum.value+850)%200==0&&datum.value<400?(datum.value>0?'+'+datum.value:''+datum.value):''", "labelFlush": false, "labelOverlap": false, "labelFontSize": 19, "labelPadding": 17, "tickSize": 6, "title": "ms", "titleFontSize": 19, "titleFontWeight": "normal", "titleX": 378, "titleY": 63, "titleAlign": "center", "titleBaseline": "middle"}}, "y": {"datum": 16, "scale": {"domain": [-20, 40], "reverse": true, "nice": false, "zero": false}, "axis": {"values": [-20,-10,0,10,20,30,40], "labelExpr": "datum.value==0?'vEOG':''", "labelFontWeight": "bold", "labelFontSize": 18, "labelAlign": "center", "labelBaseline": "middle", "labelPadding": 50, "labelOffset": 2, "title": null, "tickSize": 5}}}},
{"data": {"values": [{}]}, "mark": {"type": "text", "text": "}", "fontSize": 46, "color": "#111", "baseline": "middle"}, "encoding": {"x": {"datum": -791, "scale": {"domain": [-850, 534], "nice": false, "zero": false}, "axis": {"values": [-850,-750,-650,-550,-450,-350,-250,-150,-50,50,150,250,350,450], "labelExpr": "(datum.value+850)%200==0&&datum.value<400?(datum.value>0?'+'+datum.value:''+datum.value):''", "labelFlush": false, "labelOverlap": false, "labelFontSize": 19, "labelPadding": 17, "tickSize": 6, "title": "ms", "titleFontSize": 19, "titleFontWeight": "normal", "titleX": 378, "titleY": 63, "titleAlign": "center", "titleBaseline": "middle"}}, "y": {"datum": 25.75, "scale": {"domain": [-20, 40], "reverse": true, "nice": false, "zero": false}, "axis": {"values": [-20,-10,0,10,20,30,40], "labelExpr": "datum.value==0?'vEOG':''", "labelFontWeight": "bold", "labelFontSize": 18, "labelAlign": "center", "labelBaseline": "middle", "labelPadding": 50, "labelOffset": 2, "title": null, "tickSize": 5}}}},
{"data": {"values": [{}]}, "mark": {"type": "text", "text": "10 µV", "fontSize": 27, "color": "#111", "align": "left", "baseline": "middle"}, "encoding": {"x": {"datum": -746, "scale": {"domain": [-850, 534], "nice": false, "zero": false}, "axis": {"values": [-850,-750,-650,-550,-450,-350,-250,-150,-50,50,150,250,350,450], "labelExpr": "(datum.value+850)%200==0&&datum.value<400?(datum.value>0?'+'+datum.value:''+datum.value):''", "labelFlush": false, "labelOverlap": false, "labelFontSize": 19, "labelPadding": 17, "tickSize": 6, "title": "ms", "titleFontSize": 19, "titleFontWeight": "normal", "titleX": 378, "titleY": 63, "titleAlign": "center", "titleBaseline": "middle"}}, "y": {"datum": 25.75, "scale": {"domain": [-20, 40], "reverse": true, "nice": false, "zero": false}, "axis": {"values": [-20,-10,0,10,20,30,40], "labelExpr": "datum.value==0?'vEOG':''", "labelFontWeight": "bold", "labelFontSize": 18, "labelAlign": "center", "labelBaseline": "middle", "labelPadding": 50, "labelOffset": 2, "title": null, "tickSize": 5}}}},
{"data": {"values": [{}]}, "mark": {"type": "text", "text": "+", "fontSize": 22, "color": "#111", "baseline": "middle"}, "encoding": {"x": {"datum": -763, "scale": {"domain": [-850, 534], "nice": false, "zero": false}, "axis": {"values": [-850,-750,-650,-550,-450,-350,-250,-150,-50,50,150,250,350,450], "labelExpr": "(datum.value+850)%200==0&&datum.value<400?(datum.value>0?'+'+datum.value:''+datum.value):''", "labelFlush": false, "labelOverlap": false, "labelFontSize": 19, "labelPadding": 17, "tickSize": 6, "title": "ms", "titleFontSize": 19, "titleFontWeight": "normal", "titleX": 378, "titleY": 63, "titleAlign": "center", "titleBaseline": "middle"}}, "y": {"datum": 35.9, "scale": {"domain": [-20, 40], "reverse": true, "nice": false, "zero": false}, "axis": {"values": [-20,-10,0,10,20,30,40], "labelExpr": "datum.value==0?'vEOG':''", "labelFontWeight": "bold", "labelFontSize": 18, "labelAlign": "center", "labelBaseline": "middle", "labelPadding": 50, "labelOffset": 2, "title": null, "tickSize": 5}}}}
]
}
]
}
